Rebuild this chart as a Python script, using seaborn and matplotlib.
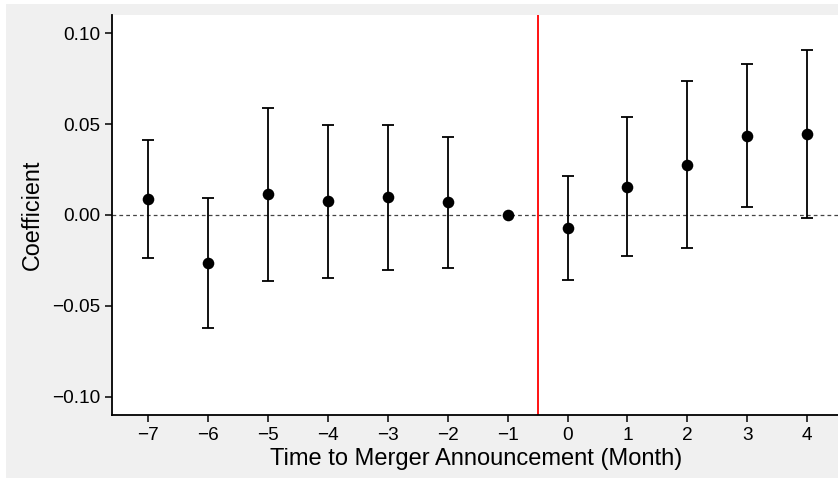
import matplotlib
matplotlib.use("Agg")
import matplotlib.pyplot as plt
from matplotlib.patches import Rectangle
import numpy as np
import pandas as pd
import seaborn as sns

months = [-7, -6, -5, -4, -3, -2, -1, 0, 1, 2, 3, 4]
coef = [0.0086, -0.0266, 0.0114, 0.0074, 0.0097, 0.0068, 0.0, -0.0073, 0.0152, 0.0275, 0.0433, 0.0444]
ci_low = [-0.0238, -0.0622, -0.0363, -0.0347, -0.0303, -0.0292, np.nan, -0.0358, -0.0229, -0.0182, 0.0041, -0.0020]
ci_high = [0.0411, 0.0090, 0.0589, 0.0494, 0.0497, 0.0429, np.nan, 0.0213, 0.0536, 0.0736, 0.0828, 0.0908]
yticks = [-0.10, -0.05, 0.00, 0.05, 0.10]
yticklabels = ["\u22120.10", "\u22120.05", "0.00", "0.05", "0.10"]
xticklabels = ["\u22127", "\u22126", "\u22125", "\u22124", "\u22123", "\u22122", "\u22121", "0", "1", "2", "3", "4"]

df = pd.DataFrame({"month": months, "coef": coef, "lo": ci_low, "hi": ci_high})

sns.set_theme(style="ticks")
plt.rcParams["font.family"] = ["Liberation Sans", "DejaVu Sans"]

fig = plt.figure(figsize=(8.38, 4.78), dpi=100, facecolor="white")
bg = Rectangle((6 / 838, 0.5 / 478), 1.0, (478 - 4.5) / 478,
               transform=fig.transFigure, facecolor="#f0f0f0",
               edgecolor="none", zorder=-10)
fig.patches.append(bg)
ax = fig.add_axes([112 / 838, (478 - 414.7) / 478, (838 - 112) / 838 + 0.002, (414.7 - 15) / 478])
ax.set_zorder(1)
ax.set_facecolor("white")

ax.axhline(0, color="#444444", lw=0.9, ls=(0, (3, 2.5)), zorder=1)
ax.axvline(-0.5, color="#ff0000", lw=1.3, zorder=1)

eb = df.dropna()
ax.errorbar(eb["month"], eb["coef"],
            yerr=[eb["coef"] - eb["lo"], eb["hi"] - eb["coef"]],
            fmt="none", ecolor="black", elinewidth=1.3, capsize=4.5, capthick=1.3, zorder=2)
sns.scatterplot(data=df, x="month", y="coef", color="black", s=70, edgecolor="black",
                linewidth=0, ax=ax, zorder=3)

ax.set_xlim(-7.6, 4.54)
ax.set_ylim(-0.11, 0.11)
ax.set_xticks(months)
ax.set_xticklabels(xticklabels)
ax.set_yticks(yticks)
ax.set_yticklabels(yticklabels)
ax.tick_params(axis="both", labelsize=13.7, colors="black", length=5, width=1.1, direction="out")
for s in ["top", "right"]:
    ax.spines[s].set_visible(False)
for s in ["left", "bottom"]:
    ax.spines[s].set_color("black")
    ax.spines[s].set_linewidth(1.3)

ax.set_xlabel("Time to Merger Announcement (Month)", fontsize=17, color="black", labelpad=3)
ax.set_ylabel("Coefficient", fontsize=16.8, color="black", labelpad=6)

fig.savefig("out.png", dpi=100, facecolor=fig.get_facecolor())
